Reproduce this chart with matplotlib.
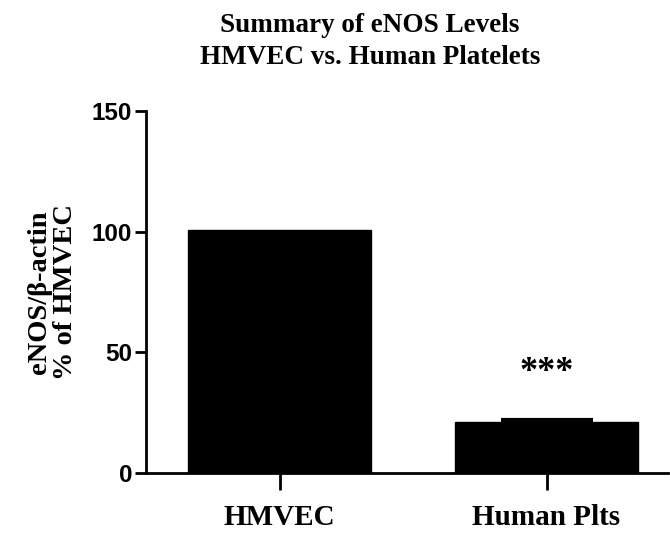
import numpy as np
import matplotlib.pyplot as plt

# data
groups = ['HMVEC', 'Human Plts']
means = [100.6, 21.0]
sem = [0, 1.1]
stars = ['', '***']

serif = 'Liberation Serif'
sans = 'Liberation Sans'

fig = plt.figure(figsize=(6.7, 5.33), dpi=100)
ax = fig.add_axes([0.218, 0.1125, 0.779, 0.679])

x = np.arange(len(groups))
ax.bar(x, means, width=0.685, color='black', edgecolor='black')
for i in range(len(groups)):
    if sem[i] > 0:
        ax.errorbar(x[i], means[i], yerr=[[0], [sem[i]]], fmt='none',
                    ecolor='black', elinewidth=2, capsize=33, capthick=3)
    if stars[i]:
        ax.text(x[i], 41.5, stars[i], ha='center', va='center',
                fontsize=26, fontweight='bold', family=serif)

ax.set_xlim(-0.5, 1.455)
ax.set_ylim(0, 150)
ax.set_yticks([0, 50, 100, 150])
ax.set_xticks(x)
ax.set_xticklabels(groups, family=serif, fontweight='bold', fontsize=21)
for lab in ax.get_yticklabels():
    lab.set_family(sans)
    lab.set_fontweight('bold')
    lab.set_fontsize(17.5)

ax.spines['top'].set_visible(False)
ax.spines['right'].set_visible(False)
ax.spines['left'].set_linewidth(2)
ax.spines['bottom'].set_linewidth(2)
ax.tick_params(axis='y', length=8, width=2, pad=2)
ax.tick_params(axis='x', length=12, width=2, pad=10)

ax.set_ylabel('eNOS/\u03b2-actin\n% of HMVEC', family=serif, fontweight='bold',
              fontsize=20.5, labelpad=10, linespacing=1.05)

fig.text(0.552, 0.975, 'Summary of eNOS Levels\nHMVEC vs. Human Platelets',
         ha='center', va='top', family=serif, fontweight='bold', fontsize=19.5,
         linespacing=1.35)

fig.savefig('out.png', dpi=100)
